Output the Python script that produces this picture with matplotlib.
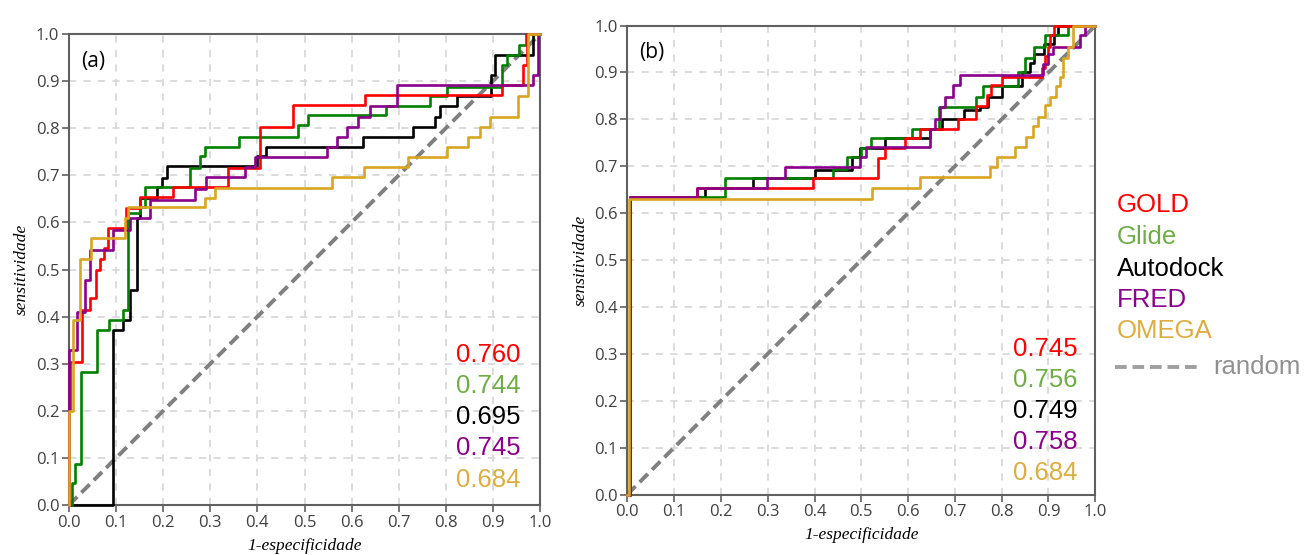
import matplotlib
matplotlib.use("Agg")
import matplotlib.pyplot as plt
from matplotlib.lines import Line2D

# ---- data: ROC step points (fpr where the curve jumps, tpr after the jump) ----
methods = ["GOLD", "Glide", "Autodock", "FRED", "OMEGA"]

gold_a_fpr = [0, 0, 0.003, 0.027, 0.045, 0.057, 0.065, 0.075, 0.082, 0.122, 0.15, 0.221, 0.338, 0.406, 0.476, 0.628, 0.919, 0.963, 0.972, 1.0]
gold_a_tpr = [0, 0.2, 0.304, 0.415, 0.44, 0.5, 0.523, 0.545, 0.588, 0.63, 0.655, 0.676, 0.715, 0.803, 0.849, 0.870, 0.892, 0.934, 1.0, 1.0]
glide_a_fpr = [0, 0.006, 0.013, 0.025, 0.059, 0.084, 0.115, 0.126, 0.15, 0.161, 0.257, 0.278, 0.289, 0.36, 0.487, 0.508, 0.674, 0.766, 0.802, 0.919, 0.93, 0.955, 0.97, 1.0]
glide_a_tpr = [0, 0.046, 0.088, 0.283, 0.372, 0.393, 0.414, 0.62, 0.633, 0.676, 0.715, 0.74, 0.761, 0.782, 0.807, 0.828, 0.847, 0.868, 0.888, 0.934, 0.955, 0.977, 1.0, 1.0]
autodock_a_fpr = [0, 0.094, 0.115, 0.13, 0.144, 0.151, 0.186, 0.197, 0.207, 0.40, 0.418, 0.625, 0.731, 0.777, 0.787, 0.823, 0.897, 0.904, 0.986, 1.0]
autodock_a_tpr = [0, 0.372, 0.393, 0.456, 0.609, 0.651, 0.676, 0.694, 0.719, 0.74, 0.761, 0.782, 0.803, 0.824, 0.847, 0.868, 0.913, 0.955, 1.0, 1.0]
fred_a_fpr = [0, 0, 0.016, 0.034, 0.045, 0.094, 0.13, 0.172, 0.268, 0.29, 0.374, 0.395, 0.547, 0.57, 0.59, 0.614, 0.64, 0.696, 0.986, 0.996, 1.0]
fred_a_tpr = [0, 0.33, 0.41, 0.478, 0.541, 0.584, 0.61, 0.648, 0.672, 0.697, 0.717, 0.738, 0.761, 0.782, 0.803, 0.824, 0.847, 0.892, 0.913, 1.0, 1.0]
omega_a_fpr = [0, 0, 0.009, 0.023, 0.047, 0.119, 0.126, 0.289, 0.31, 0.558, 0.627, 0.72, 0.802, 0.848, 0.873, 0.894, 0.954, 0.975, 1.0]
omega_a_tpr = [0, 0.2, 0.393, 0.522, 0.566, 0.609, 0.633, 0.651, 0.674, 0.697, 0.717, 0.738, 0.761, 0.782, 0.803, 0.824, 0.868, 1.0, 1.0]

gold_b_fpr = [0, 0.005, 0.148, 0.397, 0.536, 0.55, 0.593, 0.625, 0.707, 0.746, 0.768, 0.778, 0.80, 0.886, 0.893, 0.90, 0.903, 0.912, 1.0]
gold_b_tpr = [0, 0.634, 0.653, 0.674, 0.717, 0.738, 0.76, 0.78, 0.80, 0.828, 0.852, 0.873, 0.89, 0.91, 0.935, 0.955, 0.98, 1.0, 1.0]
glide_b_fpr = [0, 0.005, 0.209, 0.44, 0.469, 0.50, 0.52, 0.608, 0.665, 0.746, 0.76, 0.835, 0.85, 0.87, 0.892, 0.942, 1.0]
glide_b_tpr = [0, 0.634, 0.674, 0.695, 0.72, 0.738, 0.76, 0.78, 0.827, 0.848, 0.87, 0.90, 0.93, 0.955, 0.98, 1.0, 1.0]
autodock_b_fpr = [0, 0.005, 0.166, 0.269, 0.401, 0.48, 0.497, 0.55, 0.647, 0.672, 0.72, 0.754, 0.77, 0.80, 0.843, 0.86, 0.87, 0.89, 0.912, 0.92, 1.0]
autodock_b_tpr = [0, 0.634, 0.653, 0.674, 0.693, 0.72, 0.738, 0.76, 0.78, 0.80, 0.82, 0.827, 0.848, 0.87, 0.90, 0.92, 0.94, 0.96, 0.98, 1.0, 1.0]
fred_b_fpr = [0, 0.005, 0.148, 0.298, 0.337, 0.497, 0.51, 0.647, 0.657, 0.668, 0.679, 0.697, 0.711, 0.889, 0.90, 0.91, 0.967, 0.978, 1.0]
fred_b_tpr = [0, 0.634, 0.653, 0.674, 0.699, 0.72, 0.74, 0.78, 0.80, 0.827, 0.848, 0.873, 0.894, 0.919, 0.94, 0.955, 0.98, 1.0, 1.0]
omega_b_fpr = [0, 0.003, 0.522, 0.625, 0.775, 0.79, 0.828, 0.853, 0.867, 0.878, 0.892, 0.903, 0.917, 0.924, 0.93, 0.942, 0.952, 1.0]
omega_b_tpr = [0, 0.63, 0.653, 0.678, 0.699, 0.72, 0.742, 0.763, 0.785, 0.806, 0.83, 0.848, 0.87, 0.89, 0.93, 0.955, 1.0, 1.0]

auc_a = ["0.760", "0.744", "0.695", "0.745", "0.684"]
auc_b = ["0.745", "0.756", "0.749", "0.758", "0.684"]
ticks = [0.0, 0.1, 0.2, 0.3, 0.4, 0.5, 0.6, 0.7, 0.8, 0.9, 1.0]

line_colors = ["#ff0000", "#008000", "#000000", "#8b008b", "#daa520"]
text_colors = ["#ff0000", "#70ad47", "#000000", "#8b008b", "#dcae40"]
draw_order = [2, 1, 0, 3, 4]

curves_a = [(gold_a_fpr, gold_a_tpr), (glide_a_fpr, glide_a_tpr), (autodock_a_fpr, autodock_a_tpr),
            (fred_a_fpr, fred_a_tpr), (omega_a_fpr, omega_a_tpr)]
curves_b = [(gold_b_fpr, gold_b_tpr), (glide_b_fpr, glide_b_tpr), (autodock_b_fpr, autodock_b_tpr),
            (fred_b_fpr, fred_b_tpr), (omega_b_fpr, omega_b_tpr)]

tick_font = "Open Sans"
num_font = "Liberation Sans"
label_font = "Liberation Serif"


def draw_panel(ax, curves, aucs, tag, auc_x, auc_y0):
    ax.set_xlim(0, 1)
    ax.set_ylim(0, 1)
    ax.set_xticks(ticks)
    ax.set_yticks(ticks)
    ax.set_xticklabels([f"{t:.1f}" for t in ticks], family=tick_font, fontsize=12, color="#404040")
    ax.set_yticklabels([f"{t:.1f}" for t in ticks], family=tick_font, fontsize=12, color="#404040")
    ax.tick_params(length=5, width=1.2, color="#606060", pad=2)
    ax.grid(True, color="#d9d9d9", linestyle=(0, (4, 4)), linewidth=1.3)
    ax.set_axisbelow(True)
    for sp in ax.spines.values():
        sp.set_color("#606060")
        sp.set_linewidth(1.5)

    ax.plot([0, 1], [0, 1], color="#808080", linestyle=(0, (3, 1.5)), linewidth=2.8, zorder=2)
    for i in draw_order:
        fpr, tpr = curves[i]
        ax.step(fpr, tpr, where="post", color=line_colors[i], linewidth=1.9, zorder=3, clip_on=False)

    for i, val in enumerate(aucs):
        ax.text(auc_x, auc_y0 - i * 0.066, val, color=text_colors[i], family=num_font,
                fontsize=18.5, ha="right", va="center", zorder=4)

    ax.text(0.025, 0.965, tag, family=tick_font, fontsize=15, ha="left", va="top", zorder=4)
    ax.set_xlabel("1-especificidade", family=label_font, style="italic", fontsize=12.5, labelpad=5)
    ax.set_ylabel("sensitividade", family=label_font, style="italic", fontsize=12.5, labelpad=4)


fig = plt.figure(figsize=(13.05, 5.55), dpi=100)
ax_a = fig.add_axes([0.0529, 0.0901, 0.3609, 0.8486])
ax_b = fig.add_axes([0.4807, 0.109, 0.3586, 0.845])

draw_panel(ax_a, curves_a, auc_a, "(a)", 0.958, 0.318)
draw_panel(ax_b, curves_b, auc_b, "(b)", 0.963, 0.31)

# legend on the right, placed in figure coordinates
legend_x = 1117 / 1305
legend_y = [205, 237, 269, 300, 331]
for name, color, py in zip(methods, text_colors, legend_y):
    fig.text(legend_x, 1 - py / 555, name, color=color, family=num_font, fontsize=18.5, ha="left", va="center")
ry = 1 - 367 / 555
fig.add_artist(Line2D([1115 / 1305, 1200 / 1305], [ry, ry], transform=fig.transFigure,
                      color="#a0a0a0", linestyle=(0, (3, 1.5)), linewidth=2.8))
fig.text(1213 / 1305, ry, "random", color="#909090", family=num_font, fontsize=18.5, ha="left", va="center")

fig.savefig("out.png", dpi=100)
